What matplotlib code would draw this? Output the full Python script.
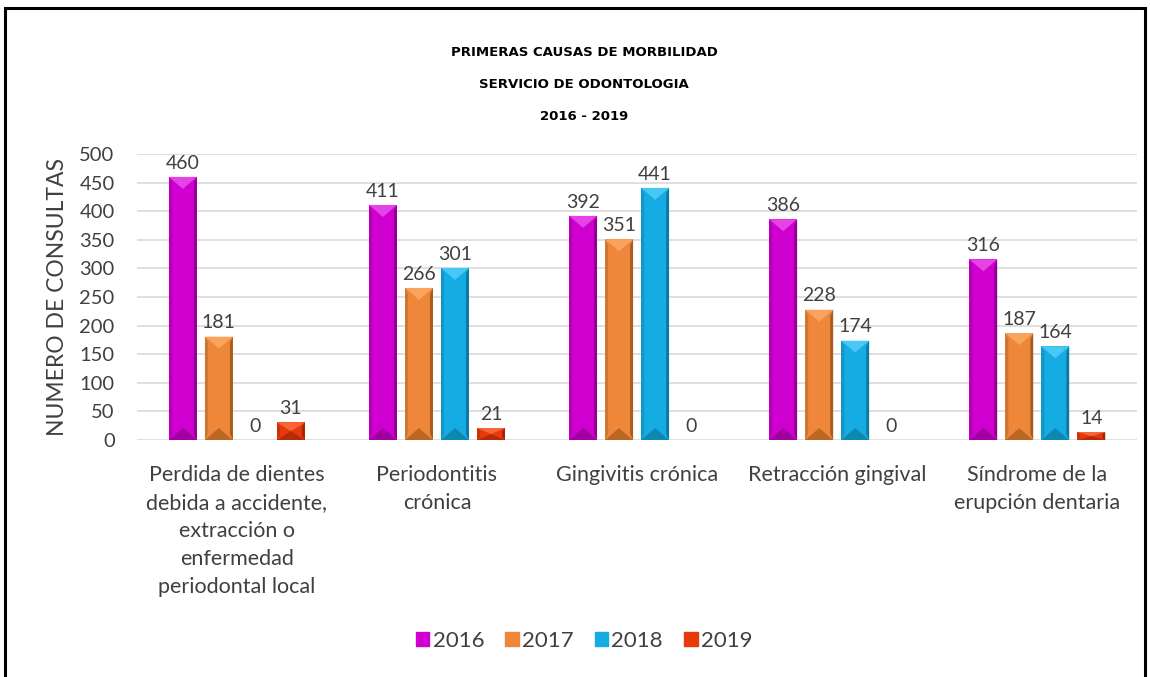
import matplotlib
matplotlib.use("Agg")
import matplotlib.pyplot as plt
from matplotlib.patches import Rectangle, Polygon
import numpy as np

# Datos
categorias = [
    "Perdida de dientes\ndebida a accidente,\nextracción o\nenfermedad\nperiodontal local",
    "Periodontitis\ncrónica",
    "Gingivitis crónica",
    "Retracción gingival",
    "Síndrome de la\nerupción dentaria",
]
anios = ["2016", "2017", "2018", "2019"]
v2016 = [460, 411, 392, 386, 316]
v2017 = [181, 266, 351, 228, 187]
v2018 = [0, 301, 441, 174, 164]
v2019 = [31, 21, 0, 0, 14]
series = [v2016, v2017, v2018, v2019]
colores = ["#cf00cf", "#ee873a", "#14ace2", "#e63a0c"]
oscuros = ["#6a006a", "#7a4010", "#075a78", "#7a1a04"]
claros = ["#f060f0", "#ffb070", "#60d4ff", "#ff7a50"]

plt.rcParams["font.family"] = ["Lato", "DejaVu Sans"]
texto = "#404040"

fig = plt.figure(figsize=(11.5, 6.77), dpi=100)
ax = fig.add_axes([0.119, 0.350, 0.870, 0.4225])

x = np.arange(len(categorias))
paso = 0.18
ancho = 0.14

# pixeles -> unidades de datos
px_x = 1.0 / 200.0
px_y = 500.0 / 286.0

for i, (vals, col) in enumerate(zip(series, colores)):
    pos = x + (i - 1.5) * paso
    bars = ax.bar(pos, vals, width=ancho, color=col, zorder=2)
    for b, v in zip(bars, vals):
        ax.text(b.get_x() + b.get_width() / 2, v + 9, str(v), ha="center",
                va="bottom", fontsize=14, color=texto)
        if v == 0:
            continue
        x0, w, h = b.get_x(), b.get_width(), b.get_height()
        d = 3 * px_x
        tri = min(12 * px_y, h / 2)
        # lado derecho oscuro
        ax.add_patch(Polygon([[x0 + w - d, tri / 2], [x0 + w, 0], [x0 + w, h],
                              [x0 + w - d, h - tri / 2]], closed=True,
                             color=oscuros[i], alpha=0.6, lw=0, zorder=3))
        # lado izquierdo
        ax.add_patch(Polygon([[x0, 0], [x0 + d, tri / 2], [x0 + d, h - tri / 2],
                              [x0, h]], closed=True,
                             color=oscuros[i], alpha=0.25, lw=0, zorder=3))
        # triangulo superior claro
        ax.add_patch(Polygon([[x0, h], [x0 + w, h], [x0 + w / 2, h - tri]],
                             closed=True, color=claros[i], alpha=0.7, lw=0, zorder=3))
        # triangulo inferior oscuro
        ax.add_patch(Polygon([[x0, 0], [x0 + w, 0], [x0 + w / 2, tri]],
                             closed=True, color=oscuros[i], alpha=0.45, lw=0, zorder=3))

ax.set_xlim(-0.5, len(categorias) - 0.5)
ax.set_ylim(0, 500)
ax.set_yticks(range(0, 501, 50))
ax.yaxis.grid(True, color="#d9d9d9", lw=1.2, zorder=0)
ax.set_axisbelow(True)
for s in ax.spines.values():
    s.set_visible(False)
ax.tick_params(length=0)
ax.tick_params(axis="y", labelsize=14.5, labelcolor=texto, pad=16)
ax.set_xticks(x)
ax.set_xticklabels(categorias, fontsize=15.5, color=texto, va="top",
                   linespacing=1.5)
ax.tick_params(axis="x", pad=18)
ax.set_ylabel("NUMERO DE CONSULTAS", fontsize=16.5, color=texto, labelpad=8)

# Titulo
titulo = ["PRIMERAS CAUSAS DE MORBILIDAD", "SERVICIO DE ODONTOLOGIA", "2016 - 2019"]
for k, t in enumerate(titulo):
    fig.text(0.508, 1 - (53 + 31.5 * k) / 677, t, ha="center", va="center",
             fontsize=9.5, fontweight="bold",
             family=["Liberation Sans Narrow", "DejaVu Sans"])

# Leyenda
handles = [Rectangle((0, 0), 1, 1, color=c) for c in colores]
fig.legend(handles, anios, loc="center", bbox_to_anchor=(0.508, 1 - 641 / 677),
           ncol=4, frameon=False, fontsize=16, handlelength=0.6,
           handleheight=0.6, handletextpad=0.15, columnspacing=0.95,
           labelcolor=texto)

# Marco
fig.patches.append(Rectangle((5 / 1150, -0.01), 1140 / 1150, 1 - 8 / 677 + 0.01,
                             transform=fig.transFigure, fill=False,
                             edgecolor="black", lw=2.2))

fig.savefig("out.png", dpi=100)
